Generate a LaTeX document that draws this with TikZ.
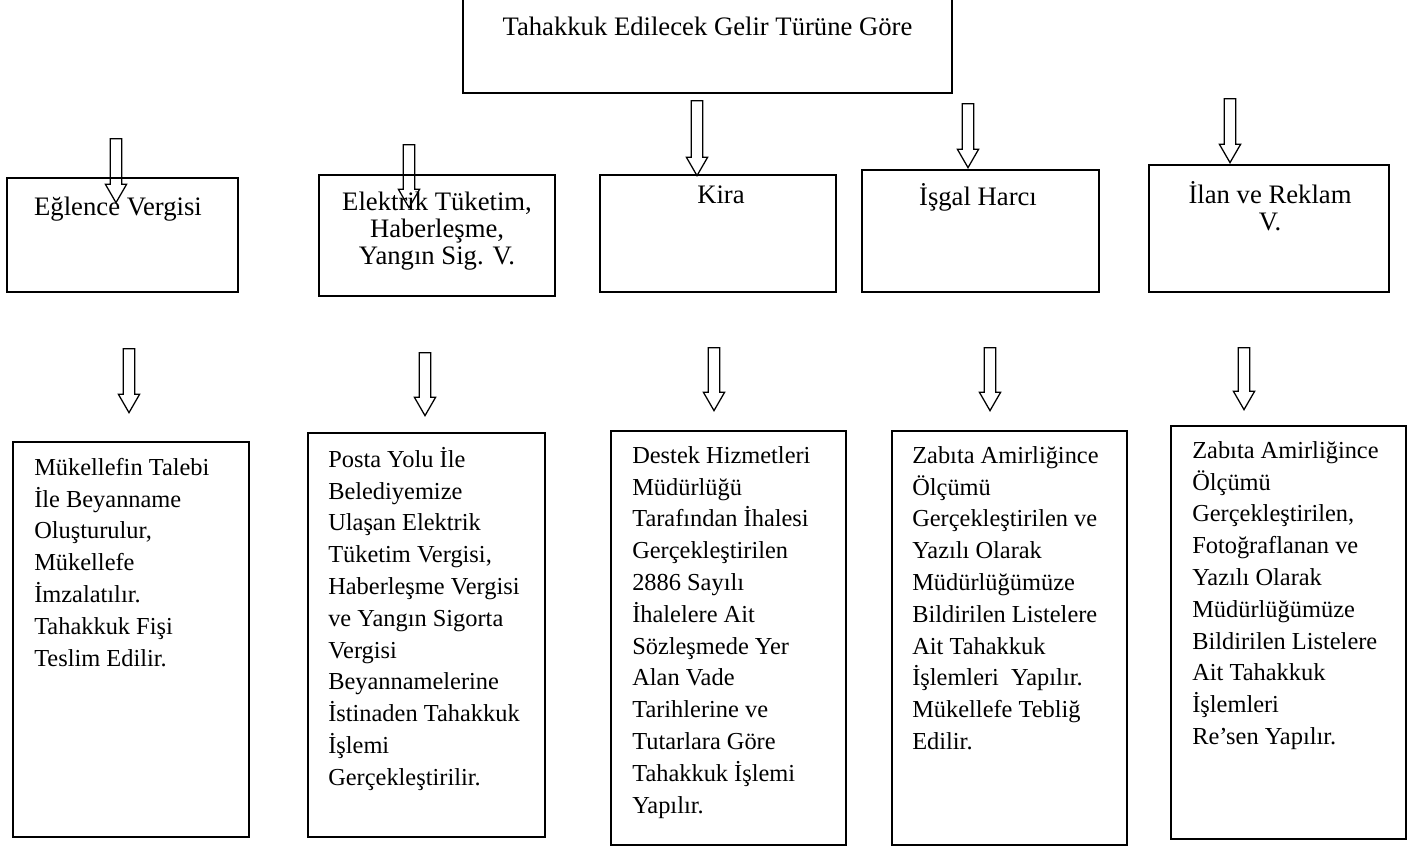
\documentclass[tikz,border=0pt]{standalone}
\usepackage{fontspec}
\setmainfont{Liberation Serif}
\usetikzlibrary{shapes.arrows}
\tikzset{
	box/.style={draw=black, line width=1.3pt, inner sep=0pt},
	headtext/.style={font=\fontsize{20}{20.25}\selectfont, inner sep=0pt, align=center},
	bodytext/.style={font=\fontsize{18.3}{23.85}\selectfont, inner sep=0pt, align=left, anchor=north west},
	blockarrow/.style={single arrow, draw=black, line width=0.95pt, rotate=-90, anchor=tail, inner xsep=0pt, inner ysep=3.9pt, minimum width=0pt, single arrow head extend=3.6pt, single arrow tip angle=60}
}
\begin{document}
\begin{tikzpicture}[x=0.75pt, y=-0.75pt]
	\useasboundingbox (0,0) rectangle (1419,847);
	% top box
	\node[box, minimum width=366.75pt, minimum height=72pt] (gelir) at (707.5,45) {};
	\node[headtext, anchor=base] (gelirtxt) at (707.5,35) {Tahakkuk Edilecek Gelir Türüne Göre};
	% first row
	\node[box, minimum width=173.25pt, minimum height=85.5pt] (eglence) at (122.5,235) {};
	\node[box, minimum width=177pt, minimum height=90.75pt] (elektrik) at (437,235.5) {};
	\node[box, minimum width=177pt, minimum height=87.75pt] (kira) at (718,233.5) {};
	\node[box, minimum width=177.75pt, minimum height=91.5pt] (isgal) at (980.5,231) {};
	\node[box, minimum width=180pt, minimum height=95.25pt] (ilan) at (1269,228.5) {};
	\node[headtext, anchor=base] (eglencetxt) at (118,215) {Eğlence Vergisi};
	\node[headtext, anchor=north] (elektriktxt) at (437,191) {\strut Elektrik Tüketim,\\Haberleşme,\\Yangın Sig. V.};
	\node[headtext, anchor=base] (kiratxt) at (721,203) {Kira};
	\node[headtext, anchor=base] (isgaltxt) at (978,205) {İşgal Harcı};
	\node[headtext, anchor=north] (ilantxt) at (1270,181) {\strut İlan ve Reklam\\V.};
	\node[blockarrow, minimum height=48pt] (ok1) at (116,138) {};
	\node[blockarrow, minimum height=47.25pt] (ok2) at (409,144) {};
	\node[blockarrow, minimum height=56.25pt] (ok3) at (697,100) {};
	\node[blockarrow, minimum height=48pt] (ok4) at (968,103) {};
	\node[blockarrow, minimum height=48pt] (ok5) at (1230,98) {};
	% second row
	\node[blockarrow, minimum height=48pt] (ok6) at (129,348) {};
	\node[blockarrow, minimum height=47.25pt] (ok7) at (425,352) {};
	\node[blockarrow, minimum height=47.25pt] (ok8) at (714,347) {};
	\node[blockarrow, minimum height=47.25pt] (ok9) at (990,347) {};
	\node[blockarrow, minimum height=46.5pt] (ok10) at (1244,347) {};
	\node[box, minimum width=177pt, minimum height=296.25pt] (eglencebox) at (131,639.5) {};
	\node[box, minimum width=177.75pt, minimum height=303pt] (elektrikbox) at (426.5,635) {};
	\node[box, minimum width=176.25pt, minimum height=310.5pt] (kirabox) at (728.5,638) {};
	\node[box, minimum width=176.25pt, minimum height=310.5pt] (isgalbox) at (1009.5,638) {};
	\node[box, minimum width=176.25pt, minimum height=309.75pt] (ilanbox) at (1288.5,632.5) {};
	\node[bodytext] (eglenceis) at (34,452.7) {\strut Mükellefin Talebi\\İle Beyanname\\Oluşturulur,\\Mükellefe\\İmzalatılır.\\Tahakkuk Fişi\\Teslim Edilir.};
	\node[bodytext] (elektrikis) at (328,444.7) {\strut Posta Yolu İle\\Belediyemize\\Ulaşan Elektrik\\Tüketim Vergisi,\\Haberleşme Vergisi\\ve Yangın Sigorta\\Vergisi\\Beyannamelerine\\İstinaden Tahakkuk\\İşlemi\\Gerçekleştirilir.};
	\node[bodytext] (kirais) at (632,440.7) {\strut Destek Hizmetleri\\Müdürlüğü\\Tarafından İhalesi\\Gerçekleştirilen\\2886 Sayılı\\İhalelere Ait\\Sözleşmede Yer\\Alan Vade\\Tarihlerine ve\\Tutarlara Göre\\Tahakkuk İşlemi\\Yapılır.};
	\node[bodytext] (isgalis) at (912,440.7) {\strut Zabıta Amirliğince\\Ölçümü\\Gerçekleştirilen ve\\Yazılı Olarak\\Müdürlüğümüze\\Bildirilen Listelere\\Ait Tahakkuk\\İşlemleri\ \ Yapılır.\\Mükellefe Tebliğ\\Edilir.};
	\node[bodytext] (ilanis) at (1192,435.7) {\strut Zabıta Amirliğince\\Ölçümü\\Gerçekleştirilen,\\Fotoğraflanan ve\\Yazılı Olarak\\Müdürlüğümüze\\Bildirilen Listelere\\Ait Tahakkuk\\İşlemleri\\Re’sen Yapılır.};
\end{tikzpicture}
\end{document}
